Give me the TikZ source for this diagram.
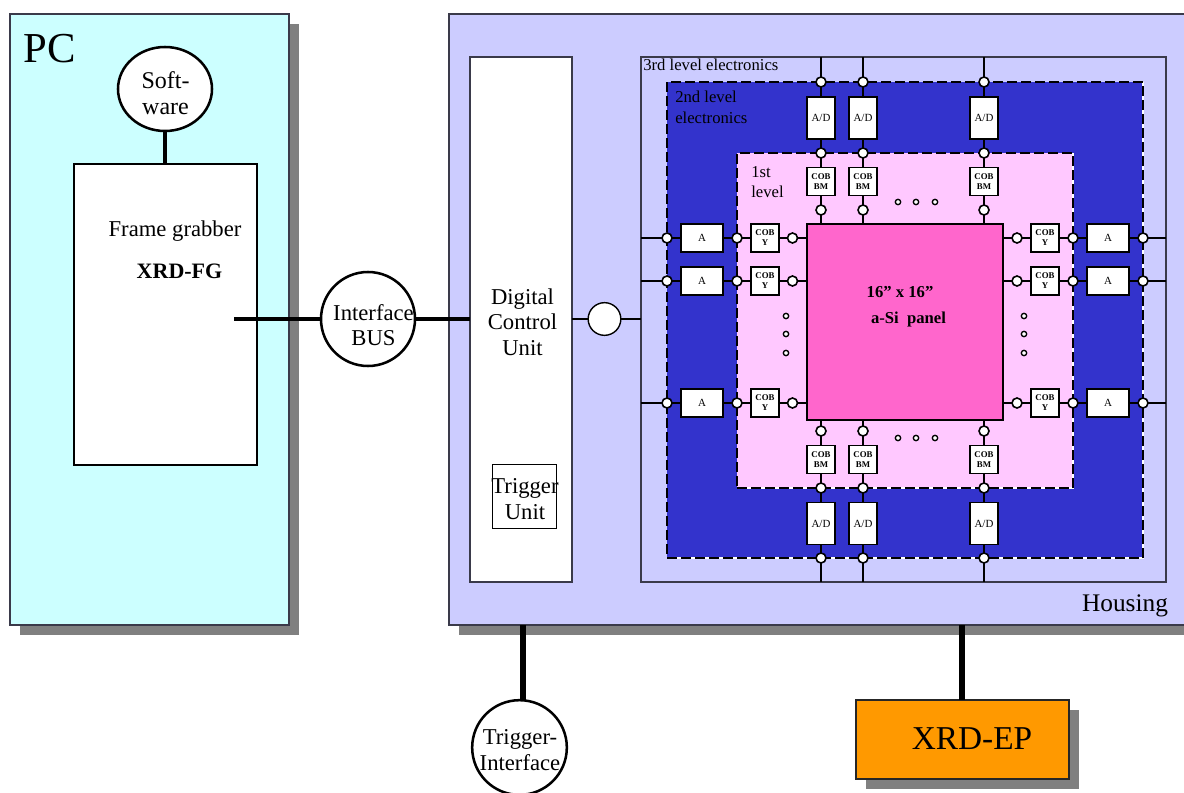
\documentclass[tikz,border=0pt]{standalone}
\usepackage{fontspec}
\usetikzlibrary{shapes.geometric}
\setmainfont{Liberation Serif}
\newcommand{\fs}[2]{\fontsize{#1}{#2}\selectfont}
\definecolor{pcfill}{HTML}{CCFFFF}
\definecolor{housefill}{HTML}{CCCCFF}
\definecolor{secondfill}{HTML}{3333CC}
\definecolor{firstfill}{HTML}{FFC8FF}
\definecolor{panelfill}{HTML}{FF66CC}
\definecolor{epfill}{HTML}{FF9900}
\definecolor{shadowgray}{HTML}{808080}
\definecolor{edgegray}{HTML}{3A3A4A}
\tikzset{
  x=0.75pt,y=-0.75pt,
  sz/.style 2 args={minimum width=#1*0.75pt,minimum height=#2*0.75pt,inner sep=0pt,outer sep=0pt,rectangle},
  shadowbox/.style={fill=shadowgray,draw=none},
  panelbox/.style={draw=edgegray,line width=0.95pt},
  dashbox/.style={draw=black,line width=1.4pt,dash pattern=on 7.5pt off 3pt},
  wire/.style={draw=black,line width=1.1pt},
  fatwire/.style={draw=black,line width=2.4pt},
  hugewire/.style={draw=black,line width=3.8pt},
  pin/.style={circle,draw=black,fill=white,line width=1.2pt,minimum size=7.5pt,inner sep=0pt,outer sep=0pt},
  dotmark/.style={circle,draw=black,fill=white,line width=1pt,minimum size=4pt,inner sep=0pt},
  adbox/.style={sz={28}{42},draw=black,fill=white,line width=1.2pt,font=\fs{8.2}{10}},
  abox/.style={sz={42}{28},draw=black,fill=white,line width=1.2pt,font=\fs{8.2}{10}},
  cobbox/.style={sz={28}{28},draw=black,fill=white,line width=1.2pt,align=center,font=\fs{6.6}{8}\bfseries},
  bigtext/.style={align=center,inner sep=0pt,font=\fs{17}{19}},
  smalltext/.style={align=left,inner sep=0pt,font=\fs{12.5}{15.5}},
  ringnode/.style={circle,draw=black,fill=white,line width=1.9pt,inner sep=0pt,outer sep=0pt}
}
\begin{document}
\begin{tikzpicture}
\clip (0,0) rectangle (1184,792);
% shadows
\fill[shadowbox] (20,24) rectangle (299,635);
\fill[shadowbox] (459,24) rectangle (1200,635);
\fill[shadowbox] (866,710) rectangle (1079,789);
% containers
\node[sz={279}{611},panelbox,fill=pcfill] (pc) at (149.5,319.5) {};
\node[sz={760}{611},panelbox,fill=housefill] (housing) at (829,319.5) {};
\node[sz={102}{525},panelbox,fill=white] (dcubox) at (521,319.5) {};
\node[sz={64}{64},draw=black,line width=0.75pt,fill=white] (trigbox) at (524,496) {};
\node[sz={525}{525},panelbox] (third) at (903.5,319.5) {};
\node[sz={476}{476},fill=secondfill] (second) at (905,320) {};
\draw[white,line width=0.8pt] (second.south west) -- (second.south east) -- (second.north east);
\node[sz={476}{476},dashbox] (secondedge) at (905,320) {};
\node[sz={336}{335},fill=firstfill] (first) at (905,320.5) {};
\draw[white,line width=0.8pt] (first.south west) -- (first.south east) -- (first.north east);
\node[sz={336}{335},dashbox] (firstedge) at (905,320.5) {};
\node[sz={196}{196},draw=black,line width=1.1pt,fill=panelfill] (panel) at (905,322) {};
% top and bottom chains
\foreach \n/\cx in {a/821,b/863,c/984}{
  \coordinate (te\n) at (\cx,57);
  \node[pin] (tp\n) at (\cx,82) {};
  \node[adbox] (tad\n) at (\cx,118) {A/D};
  \node[pin] (tq\n) at (\cx,153) {};
  \node[cobbox] (tcob\n) at (\cx,181.5) {COB\\[-0.5pt]BM};
  \node[pin] (tr\n) at (\cx,210) {};
  \draw[wire] (te\n) -- (tp\n);
  \draw[wire] (tp\n) -- (tad\n);
  \draw[wire] (tad\n) -- (tq\n);
  \draw[wire] (tq\n) -- (tcob\n);
  \draw[wire] (tcob\n) -- (tr\n);
  \draw[wire] (tr\n) -- (tr\n |- panel.north);
  \coordinate (be\n) at (\cx,582);
  \node[pin] (bp\n) at (\cx,558) {};
  \node[adbox] (bad\n) at (\cx,523.5) {A/D};
  \node[pin] (bq\n) at (\cx,488) {};
  \node[cobbox] (bcob\n) at (\cx,459.5) {COB\\[-0.5pt]BM};
  \node[pin] (br\n) at (\cx,431) {};
  \draw[wire] (be\n) -- (bp\n);
  \draw[wire] (bp\n) -- (bad\n);
  \draw[wire] (bad\n) -- (bq\n);
  \draw[wire] (bq\n) -- (bcob\n);
  \draw[wire] (bcob\n) -- (br\n);
  \draw[wire] (br\n) -- (br\n |- panel.south);
}
% left and right chains
\foreach \n/\cy in {a/238,b/281,c/403}{
  \coordinate (le\n) at (641,\cy);
  \node[pin] (lp\n) at (667,\cy) {};
  \node[abox] (la\n) at (702,\cy) {A};
  \node[pin] (lq\n) at (737,\cy) {};
  \node[cobbox] (lcob\n) at (765,\cy) {COB\\[-0.5pt]Y};
  \node[pin] (lr\n) at (792.5,\cy) {};
  \draw[wire] (le\n) -- (lp\n);
  \draw[wire] (lp\n) -- (la\n);
  \draw[wire] (la\n) -- (lq\n);
  \draw[wire] (lq\n) -- (lcob\n);
  \draw[wire] (lcob\n) -- (lr\n);
  \draw[wire] (lr\n) -- (lr\n -| panel.west);
  \coordinate (re\n) at (1166,\cy);
  \node[pin] (rp\n) at (1143,\cy) {};
  \node[abox] (ra\n) at (1108,\cy) {A};
  \node[pin] (rq\n) at (1073,\cy) {};
  \node[cobbox] (rcob\n) at (1045,\cy) {COB\\[-0.5pt]Y};
  \node[pin] (rr\n) at (1017,\cy) {};
  \draw[wire] (re\n) -- (rp\n);
  \draw[wire] (rp\n) -- (ra\n);
  \draw[wire] (ra\n) -- (rq\n);
  \draw[wire] (rq\n) -- (rcob\n);
  \draw[wire] (rcob\n) -- (rr\n);
  \draw[wire] (rr\n) -- (rr\n -| panel.east);
}
% ellipsis dots
\foreach \n/\cx in {a/898,b/916,c/935}{
  \node[dotmark] (dt\n) at (\cx,202) {};
  \node[dotmark] (db\n) at (\cx,438) {};
}
\foreach \n/\cy in {a/316,b/334,c/353}{
  \node[dotmark] (dl\n) at (786,\cy) {};
  \node[dotmark] (dr\n) at (1024,\cy) {};
}
% PC contents
\node[sz={183}{301},draw=black,line width=1.6pt,fill=white] (fg) at (165.5,314.5) {};
\node[draw=black,fill=white,line width=1.9pt,ellipse,minimum width=70.5pt,minimum height=63pt,inner sep=0pt,outer sep=0pt] (soft) at (165,89) {};
\draw[fatwire] (soft) -- (soft |- fg.north);
\coordinate (fgport) at (234,319);
% bus
\node[ringnode,minimum size=70.5pt] (bus) at (368,319) {};
\draw[fatwire] (fgport) -- (bus);
\draw[fatwire] (bus) -- (bus -| dcubox.west);
\node[circle,draw=black,fill=white,line width=1.05pt,minimum size=24.5pt,inner sep=0pt,outer sep=0pt] (link) at (604.5,319) {};
\draw[wire] (link -| dcubox.east) -- (link);
\draw[wire] (link) -- (link -| third.west);
% lower parts
\node[ringnode,minimum size=71pt] (trigif) at (519.5,747.5) {};
\coordinate (trigtop) at (523,625);
\coordinate (trigbot) at (523,700);
\draw[hugewire] (trigtop) -- (trigbot);
\node[sz={213}{79},draw=black!85,line width=0.9pt,fill=epfill] (ep) at (962.5,739.5) {};
\coordinate (eptop) at (962,625);
\draw[hugewire] (eptop) -- (ep.north -| eptop);
% texts
\node[inner sep=0pt,font=\fs{32}{36}] (pclabel) at (49.5,48.5) {PC};
\node[inner sep=0pt,align=center,font=\fs{18}{19.8}] (softlabel) at (165.5,93) {Soft-\\ware};
\node[bigtext,font=\fs{17}{19}] (buslabel) at (373.5,325) {Interface\\BUS};
\node[bigtext,font=\fs{17}{19.5}] (trigiflabel) at (520,750) {Trigger-\\Interface};
\node[inner sep=0pt,font=\fs{19}{22}] (houselabel) at (1125,606) {Housing};
\node[inner sep=0pt,font=\fs{25}{28}] (eplabel) at (972,739) {XRD-EP};
\node[inner sep=0pt,font=\fs{17}{20}] (fglabel) at (175,231) {Frame grabber};
\node[inner sep=0pt,font=\fs{16.5}{20}\bfseries] (fgname) at (179.5,271) {XRD-FG};
\node[bigtext] (dculabel) at (522.5,322) {Digital\\Control\\Unit};
\node[bigtext] (triglabel) at (525,499) {Trigger\\Unit};
\node[smalltext,anchor=west] (thirdlabel) at (643,64.5) {3rd level electronics};
\node[smalltext,anchor=west] (secondlabel) at (675,107.5) {2nd level\\electronics};
\node[smalltext,anchor=west] (firstlabel) at (751,182) {1st\\level};
\node[inner sep=0pt,font=\fs{12.5}{15}\bfseries] (size) at (900,292) {16” x 16”};
\node[inner sep=0pt,font=\fs{12.5}{15}\bfseries] (panelname) at (908.5,319.5) {a-Si\ \ panel};
\end{tikzpicture}
\end{document}
